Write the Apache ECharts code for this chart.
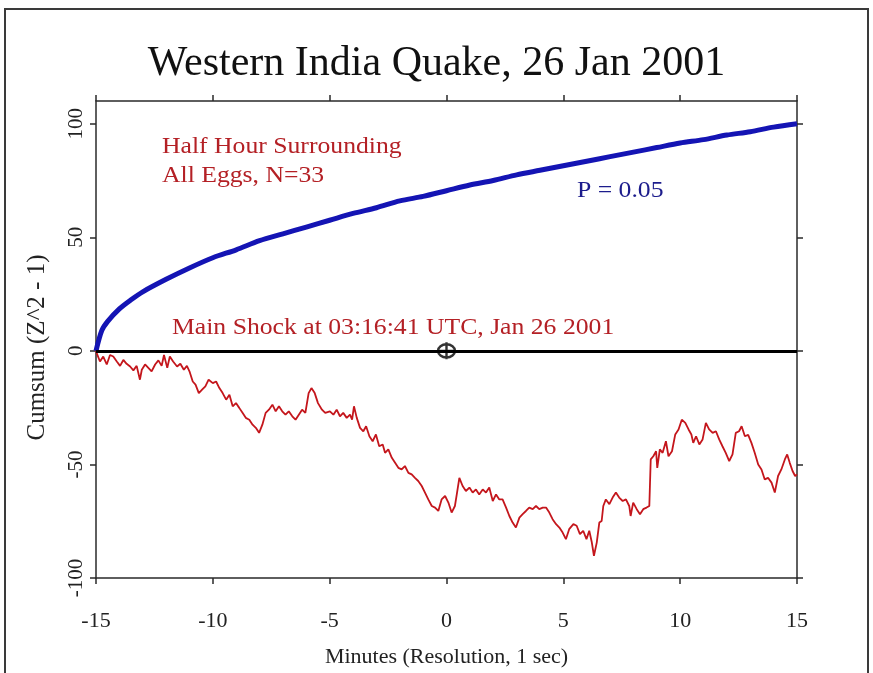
<!DOCTYPE html>
<html>
<head>
<meta charset="utf-8">
<title>Western India Quake, 26 Jan 2001</title>
<script src="https://cdn.jsdelivr.net/npm/echarts@6/dist/echarts.min.js"></script>
<style>
  html, body { margin: 0; padding: 0; background: #ffffff; }
  #chart { width: 873px; height: 673px; }
</style>
</head>
<body>
<div id="chart"></div>
<script>
// Tick values for both axes
var xTicks = [-15, -10, -5, 0, 5, 10, 15];
var yTicks = [-100, -50, 0, 50, 100];

// P = 0.05 envelope (minutes, cumsum)
var envMinutes = [-15, -14.75, -14.5, -14, -13.5, -13, -12, -11, -10, -9, -8, -7, -6, -5, -4, -3, -2, -1, 0, 1, 2, 3, 4, 5, 6, 7, 8, 9, 10, 11, 12, 13, 14, 15];
var envValues  = [0, 9, 13, 18.5, 22.5, 26, 31.5, 36.5, 41, 44.5, 48.5, 51.5, 54.5, 57.5, 60.5, 63, 66, 68, 70.5, 73, 75, 77.5, 79.5, 81.5, 83.5, 85.5, 87.5, 89.5, 91.5, 93, 95, 96.5, 98.5, 100];

// Cumulative deviation of the egg network (minutes, cumsum)
var cumMinutes = [
  -15, -14.97, -14.83, -14.69, -14.54, -14.40, -14.26, -14.11, -13.97, -13.83, -13.69, -13.54, -13.40, -13.26, -13.12, -13.04,
  -12.90, -12.76, -12.62, -12.47, -12.33, -12.19, -12.09, -11.95, -11.84, -11.70, -11.53, -11.39, -11.24, -11.11, -11.00,
  -10.86, -10.74, -10.60, -10.46, -10.32, -10.18, -10.00, -9.86, -9.72, -9.58, -9.43, -9.29, -9.15, -9.01, -8.87, -8.73,
  -8.59, -8.44, -8.30, -8.16, -8.02, -7.88, -7.74, -7.60, -7.45, -7.31, -7.17, -7.03, -6.89, -6.75, -6.60, -6.46, -6.32,
  -6.18, -6.04, -5.90, -5.78, -5.64, -5.50, -5.33, -5.19, -4.99, -4.84, -4.70, -4.56, -4.42, -4.27, -4.13, -4.04, -3.96,
  -3.84, -3.70, -3.56, -3.44, -3.30, -3.16, -3.02, -2.88, -2.73, -2.63, -2.49, -2.34, -2.20, -2.06, -1.92, -1.78, -1.63,
  -1.49, -1.35, -1.21, -1.06, -0.92, -0.78, -0.63, -0.49, -0.35, -0.21, -0.06, 0.08, 0.22, 0.36, 0.44, 0.55, 0.69, 0.83,
  0.98, 1.12, 1.26, 1.40, 1.55, 1.69, 1.83, 1.98, 2.12, 2.26, 2.40, 2.55, 2.69, 2.83, 2.97, 3.12, 3.26, 3.40, 3.54, 3.69,
  3.83, 3.97, 4.12, 4.26, 4.40, 4.54, 4.69, 4.83, 4.97, 5.11, 5.25, 5.43, 5.57, 5.71, 5.85, 5.99, 6.11, 6.22, 6.31, 6.43,
  6.54, 6.64, 6.71, 6.82, 6.97, 7.11, 7.25, 7.39, 7.54, 7.68, 7.82, 7.88, 7.99, 8.14, 8.28, 8.42, 8.56, 8.68, 8.74, 8.85,
  8.97, 9.02, 9.13, 9.25, 9.39, 9.50, 9.65, 9.79, 9.93, 10.07, 10.22, 10.36, 10.48, 10.56, 10.68, 10.82, 10.96, 11.10,
  11.24, 11.39, 11.53, 11.67, 11.81, 11.95, 12.10, 12.24, 12.38, 12.52, 12.63, 12.77, 12.91, 13.05, 13.19, 13.34, 13.48,
  13.62, 13.76, 13.91, 14.05, 14.19, 14.33, 14.48, 14.58, 14.69, 14.81, 14.92, 15.00
];
var cumValues = [
  0, -1, -4.7, -2.5, -6, -1.8, -2.5, -4.7, -6.6, -4, -5.7, -6.9, -8.6, -6.6, -12.7, -8.3,
  -6, -7.5, -9, -6, -4.2, -6.6, -1.8, -7.5, -2.5, -4.7, -6.9, -5.7, -8.3, -6.6, -9,
  -13.5, -14.9, -18.6, -17.1, -15.6, -12.7, -14.2, -13.5, -16.4, -18.6, -21.5, -19.3, -24.4, -23, -25.1, -27.3,
  -29.5, -30.3, -32.5, -33.9, -36.1, -32.5, -27.3, -25.9, -23.7, -26.6, -24.4, -26.6, -28.1, -26.6, -28.8, -30.3, -28.1,
  -25.9, -27.3, -18.6, -16.4, -18.6, -23, -25.9, -27.3, -26.6, -28.1, -25.9, -28.8, -27.3, -29.5, -28.1, -30.3, -24.4,
  -29.5, -33.9, -35.4, -33.2, -37.6, -39.8, -36.8, -42, -41.2, -44.9, -43.4, -47.1, -49.3, -51.5, -52.2, -50.7, -53.7,
  -54.4, -55.9, -57.3, -59.5, -62.4, -65.4, -68.3, -69, -70.5, -65.4, -63.9, -66.8, -71.2, -68.3, -63.2, -55.9, -59.5, -61.7,
  -60.2, -62.4, -61, -63.2, -61, -62.4, -60.2, -66.1, -63.2, -65.4, -65.4, -69, -72.7, -75.6, -77.8, -73.4, -71.9, -70.5, -69, -69.7,
  -68.3, -69.7, -69, -69, -71.2, -74.1, -76.3, -77.8, -80, -82.9, -78.5, -76.3, -77, -80.7, -79.2, -82.9, -79.2, -84.4, -90.2, -84.4,
  -75.6, -74.9, -68.3, -65.4, -67.5, -64.6, -62.4, -64.6, -66.1, -65.4, -68.3, -72.7, -66.8, -69.7, -71.9, -69.7, -69, -68.3, -47.8, -46.4,
  -44.2, -51.5, -43.4, -44.9, -39.8, -46.4, -44.2, -36.8, -34.6, -30.3, -31.7, -34.6, -36.8, -40.5, -37.6, -41.2, -39, -31.7,
  -34.6, -36.1, -35.4, -39, -42, -44.9, -48.5, -45.6, -36.1, -35.4, -33.2, -37.6, -37, -40.5, -44.9, -50, -52.2,
  -56.6, -55.9, -58, -62.4, -55.1, -52.2, -47.8, -45.6, -49.3, -52.9, -55.1, -54.4
];

// Time of the main shock on the minute axis
var shockMinute = [0];
var shockValue = [0];

function zip(a, b) {
  var out = [];
  for (var i = 0; i < a.length; i++) out.push([a[i], b[i]]);
  return out;
}

var serif = "'Liberation Serif', 'Times New Roman', 'DejaVu Serif', serif";
var axisColor = '#2a2a2a';
var noteRed = '#b42025';

// Annotation text, drawn slightly widened; (x, y) is the top-left corner
function note(text, x, y, color) {
  return {
    type: 'text', x: x, y: y, scaleX: 1.07, scaleY: 1, originX: 0, originY: 0, z: 10,
    style: { text: text, font: '24px ' + serif, fill: color, verticalAlign: 'top', align: 'left' }
  };
}

var chart = echarts.init(document.getElementById('chart'), null, { renderer: 'canvas' });

var option = {
  backgroundColor: '#ffffff',
  animation: false,
  title: {
    text: 'Western India Quake, 26 Jan 2001',
    left: 'center',
    top: 38,
    textStyle: { fontFamily: serif, fontSize: 42, fontWeight: 'normal', color: '#111111' }
  },
  grid: { left: 96, right: 76, top: 101, bottom: 94 },
  xAxis: [
    {
      type: 'value', min: -15, max: 15, interval: 5, position: 'bottom',
      name: 'Minutes (Resolution, 1 sec)', nameLocation: 'middle', nameGap: 68,
      nameTextStyle: { fontFamily: serif, fontSize: 22, color: '#222222' },
      axisLine: { show: true, onZero: false, lineStyle: { color: axisColor, width: 1.5 } },
      axisTick: { show: true, length: 6, inside: false, customValues: xTicks, lineStyle: { color: axisColor, width: 1.5 } },
      axisLabel: { fontFamily: serif, fontSize: 22, color: '#222222', margin: 32, customValues: xTicks },
      splitLine: { show: false }
    },
    {
      type: 'value', min: -15, max: 15, interval: 5, position: 'top',
      axisLine: { show: true, onZero: false, lineStyle: { color: axisColor, width: 1.5 } },
      axisTick: { show: true, length: 6, customValues: xTicks, lineStyle: { color: axisColor, width: 1.5 } },
      axisLabel: { show: false },
      splitLine: { show: false }
    }
  ],
  yAxis: [
    {
      type: 'value', min: -100, max: 110, interval: 50, position: 'left',
      name: 'Cumsum (Z^2 - 1)', nameLocation: 'middle', nameGap: 46, nameRotate: 90,
      nameTextStyle: { fontFamily: serif, fontSize: 25, color: '#222222', padding: [0, 16, 0, 0] },
      axisLine: { show: true, onZero: false, lineStyle: { color: axisColor, width: 1.5 } },
      axisTick: { show: true, length: 6, customValues: yTicks, lineStyle: { color: axisColor, width: 1.5 } },
      axisLabel: { fontFamily: serif, fontSize: 21, color: '#222222', rotate: 90, margin: 9, customValues: yTicks },
      splitLine: { show: false }
    },
    {
      type: 'value', min: -100, max: 110, interval: 50, position: 'right',
      axisLine: { show: true, onZero: false, lineStyle: { color: axisColor, width: 1.5 } },
      axisTick: { show: true, length: 6, customValues: yTicks, lineStyle: { color: axisColor, width: 1.5 } },
      axisLabel: { show: false },
      splitLine: { show: false }
    }
  ],
  series: [
    {
      name: 'Cumsum',
      type: 'line',
      data: zip(cumMinutes, cumValues),
      symbol: 'none',
      lineStyle: { color: '#c4161c', width: 1.8 },
      z: 3,
      markLine: {
        silent: true,
        symbol: ['none', 'none'],
        label: { show: false },
        lineStyle: { color: '#000000', width: 3, type: 'solid' },
        data: [{ yAxis: 0 }]
      }
    },
    {
      name: 'P = 0.05',
      type: 'line',
      data: zip(envMinutes, envValues),
      symbol: 'none',
      smooth: 0.3,
      lineStyle: { color: '#1414b4', width: 5 },
      z: 4
    },
    {
      name: 'Main Shock',
      type: 'scatter',
      data: zip(shockMinute, shockValue),
      symbol: 'path://M0,-7A7,7 0 1,1 0,7A7,7 0 1,1 0,-7Z M-7,0L7,0 M0,-9L0,9',
      symbolSize: 17,
      itemStyle: { color: 'rgba(255,255,255,0)', borderColor: '#000000', borderWidth: 2.4 },
      z: 6
    }
  ],
  graphic: [
    {
      type: 'rect', silent: true, z: -1,
      shape: { x: 5, y: 9, width: 863, height: 700 },
      style: { fill: 'none', stroke: '#3a3a3a', lineWidth: 2 }
    },
    note('Half Hour Surrounding', 162, 135, noteRed),
    note('All Eggs, N=33', 162, 164, noteRed),
    note('P = 0.05', 577, 179, '#1c1c8c'),
    note('Main Shock at 03:16:41 UTC, Jan 26 2001', 172, 316, noteRed)
  ]
};

chart.setOption(option);
</script>
</body>
</html>
